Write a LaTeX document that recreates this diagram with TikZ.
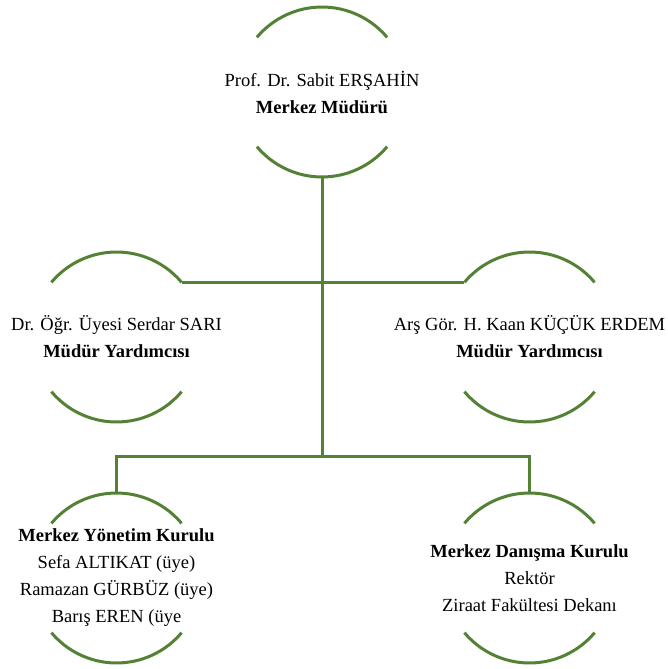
\documentclass[tikz,border=0pt]{standalone}
\usepackage{fontspec}
\setmainfont{Liberation Serif}
\definecolor{orggreen}{RGB}{84,130,53}
\tikzset{
  unit/.style={circle, minimum size=170pt, inner sep=0pt, outer sep=0pt},
  link/.style={draw=orggreen, line width=3pt},
  names/.style={align=center, inner sep=0pt, font=\fontsize{18.5}{27}\selectfont}
}
\begin{document}
\begin{tikzpicture}[x=1pt,y=-1pt]
\useasboundingbox (0,0) rectangle (668,669);

\node[unit, label={[names]center:{Prof. Dr. Sabit ERŞAHİN\\\textbf{Merkez Müdürü}}}] (mudur) at (322,92) {};

\node[unit, label={[names]center:{Dr. Öğr. Üyesi Serdar SARI\\\textbf{Müdür Yardımcısı}}}] (yard1) at (116.5,337) {};
\node[unit, label={[names]center:{Arş Gör. H. Kaan KÜÇÜK ERDEM\\\textbf{Müdür Yardımcısı}}}] (yard2) at (529.5,337) {};

\node[unit, label={[names]center:{\textbf{Merkez Yönetim Kurulu}\\Sefa ALTIKAT (üye)\\Ramazan GÜRBÜZ (üye)\\Barış EREN (üye}}] (yonetim) at (116.5,578) {};
\node[unit, label={[names]center:{\textbf{Merkez Danışma Kurulu}\\Rektör\\Ziraat Fakültesi Dekanı}}] (danisma) at (529.5,578) {};

% half-open circles
\foreach \n in {mudur,yard1,yard2,yonetim,danisma}{
  \draw[link] (\n.40) arc[start angle=40, end angle=140, radius=85pt];
  \draw[link] (\n.220) arc[start angle=220, end angle=320, radius=85pt];
}

\coordinate (split) at (322,456);

\draw[link] (mudur.south) -- (split);
\draw[link] (yard1.40) -- (yard2.140);
\draw[link] (yonetim.north) |- (split) -| (danisma.north);
\end{tikzpicture}
\end{document}
